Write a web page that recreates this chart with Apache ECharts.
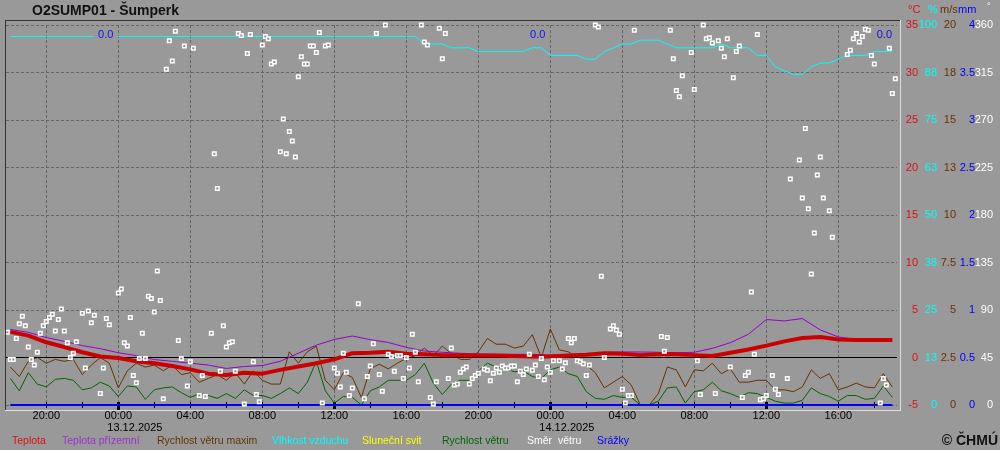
<!DOCTYPE html>
<html><head><meta charset="utf-8">
<script src="https://cdn.jsdelivr.net/npm/echarts@6/dist/echarts.min.js"></script>
<style>html,body{margin:0;padding:0;background:#999999;}#c{width:1000px;height:450px;}</style>
</head><body><div id="c"></div>
<script>
// ---------- DATA (time in hours relative to 13.12.2025 00:00) ----------
const titleText = 'O2SUMP01 - Šumperk';
const halfHourStart = -6, halfHourStep = 0.5;
const hourStart = -6, hourStep = 1;

// wind speed max [m/s], half-hourly
const windMax = [2.0,1.5,2.3,2.5,2.2,2.4,2.3,2.4,1.6,2.1,
 2.5,2.2,0.9,1.8,2.2,2.0,2.1,1.8,2.1,1.6,
 1.7,1.2,1.4,1.6,1.3,1.7,1.1,1.8,1.3,1.1,
 1.1,2.8,2.2,2.8,3.1,1.3,0.8,1.7,1.45,0.4,
 1.9,2.15,1.9,2.2,2.45,2.6,3.0,2.6,3.1,2.7,
 2.4,2.4,2.8,3.5,3.2,3.2,3.0,3.1,3.7,2.5,
 4.0,2.9,2.8,2.5,2.1,1.7,0.9,1.2,1.5,1.05,
 0,0,0.6,2.0,1.85,0.95,1.85,1.8,2.2,1.65,
 1.9,1.2,1.2,1.3,1.3,0.8,0.8,0.7,0.95,1.85,
 1.4,1.65,0.8,0.95,1.15,0.95,0.9,1.65,0.95];
// wind speed [m/s], half-hourly
const windAvg = [1.4,0.75,1.7,1.1,0.95,1.35,1.4,1.3,0.8,0.9,
 1.2,1.0,0.45,1.0,0.95,0.3,0.8,0.9,0.95,0.65,
 0.4,0.6,0.5,0.35,0.6,0.35,0.8,0.5,0.5,0.35,
 0.6,0.9,0.6,1.2,2.3,0.75,0.1,0.45,0.4,0.0,
 0.75,0.95,1.3,1.3,1.3,1.6,2.2,1.15,0.55,1.1,
 1.3,1.3,1.8,2.2,2.0,1.9,1.75,1.8,1.5,1.4,
 1.85,2.0,1.65,1.5,0.7,0.35,0.3,0.5,0.4,0.4,
 0,0,0.2,0.9,0.95,0.1,0.7,0.8,1.2,0.75,
 0.6,0.4,0.65,0.6,0.4,0.2,0.1,0.1,0.25,0.9,
 0.6,0.45,0.2,0.5,0.5,0.3,0.35,1.0,0.4];
// relative humidity [%], half-hourly
const humidity = [97,97,97,97,97,97,97,97,97,97,
 97,97,97,97,97,97,97,97,97,97,
 97,97,97,97,97,97,97,97,97,97,
 97,97,97,97,97,97,97,97,97,97,
 97,97,97,97,97,97,
 95,95,95,94,94,94,93,93,93,93,93,93,94,94,
 92,92,92,92,91,91,93,94,95,95,
 96,96,96,95,94,94,94,94,94,95,
 94,94,94,92,92,89,88,87,87,89,
 90,90,91,92,92,92,93,93,93];
// air temperature [°C], hourly
const tempAir = [2.7,2.3,1.6,1.1,0.55,0.1,-0.05,-0.4,-0.6,-0.9,
 -1.25,-1.7,-1.85,-1.6,-1.7,-1.3,-0.95,-0.6,-0.2,0.45,
 0.5,0.6,0.4,0.35,0.25,0.25,0.2,0.2,0.15,0.1,
 0.1,0.2,0.3,0.45,0.4,0.25,0.35,0.35,0.25,0.15,
 0.5,0.85,1.25,1.7,2.05,2.15,1.9,1.85,1.85,1.85];
// ground temperature [°C], hourly
const tempGround = [2.95,2.65,2.1,1.7,1.25,0.93,0.5,0.2,-0.22,-0.4,
 -0.6,-0.8,-1.15,-0.95,-0.85,-0.4,0.45,1.3,1.9,2.26,
 1.88,1.58,1.07,0.68,0.55,0.44,0.37,0.33,0.33,0.33,
 0.26,0.33,0.37,0.55,0.58,0.58,0.55,0.5,0.55,0.96,
 1.56,2.44,4.0,3.85,4.1,2.9,2.16,1.9,1.85,1.85];
// precipitation [mm], hourly
const precip = [0,0,0,0,0,0,0,0,0,0, 0,0,0,0,0,0,0,0,0,0,
 0,0,0,0,0,0,0,0,0,0, 0,0,0,0,0,0,0,0,0,0,
 0,0,0,0,0,0,0,0,0,0];
// daily precipitation totals (day end in hours) [mm]
const precipDayEnd = [0, 24, 48];
const precipDaySum = [0.0, 0.0, 0.0];
// wind direction: minutes relative to 13.12.2025 00:00, and degrees
const dirMin = [-370,-360,-350,-340,-330,-320,-310,-300,-290,-280,-270,-260,-250,-240,-230,-220,-210,-200,-190,-180,
 -170,-160,-150,-140,-120,-110,-100,-90,-80,-60,-50,-40,-30,0,10,20,30,40,50,60,
 70,80,90,100,110,120,130,140,150,160,170,180,190,200,210,220,230,240,250,270,
 280,290,310,320,330,340,350,360,370,380,390,400,410,420,430,440,450,460,470,480,
 490,500,510,520,540,550,560,570,580,590,600,610,620,630,640,650,660,670,680,690,
 700,720,730,740,750,760,770,780,800,820,830,840,850,860,870,880,890,900,910,920,
 930,940,950,960,970,980,990,1000,1010,1020,1030,1040,1050,1060,1070,1080,1090,1100,1110,1120,
 1130,1140,1150,1160,1170,1180,1190,1200,1220,1230,1240,1250,1260,1270,1280,1290,1300,1310,1320,1330,
 1340,1350,1360,1370,1380,1390,1400,1410,1420,1430,1440,1450,1470,1480,1490,1500,1510,1520,1530,1540,
 1550,1560,1570,1590,1600,1610,1620,1640,1650,1660,1670,1680,1690,1700,1710,1720,1810,1820,1830,1840,
 1850,1860,1870,1880,1910,1920,1930,1940,1950,1960,1970,1980,1990,2000,2010,2020,2030,2040,2050,2060,
 2070,2080,2090,2100,2110,2120,2130,2140,2150,2160,2180,2190,2200,2230,2240,2270,2280,2290,2300,2310,
 2320,2330,2340,2350,2370,2380,2430,2440,2450,2460,2470,2480,2490,2500,2510,2520,2540,2550,2560,2570,
 2580,2590];
const dirDeg = [69,43,43,63,77,84,75,55,43,38,50,68,75,79,83,86,70,81,91,70,
 59,45,49,60,87,35,89,78,85,11,35,82,76,106,110,59,56,83,28,21,
 44,68,44,103,101,88,127,99,6,318,345,326,354,61,44,340,18,41,338,9,
 28,8,68,238,205,32,75,55,59,60,32,352,350,1,333,351,41,10,3,341,
 349,347,323,325,240,271,238,259,250,235,311,330,323,323,340,340,334,353,2,340,
 341,35,30,17,49,31,9,16,96,6,27,37,58,352,29,13,360,48,46,32,
 47,47,25,45,35,67,50,22,360,344,341,7,1,22,357,328,352,25,54,19,
 20,31,34,36,20,25,28,30,34,33,23,30,35,31,37,35,35,37,37,22,
 32,29,34,48,33,38,27,44,24,36,31,42,42,34,40,63,59,63,42,41,
 39,28,38,360,358,122,45,72,75,71,67,15,2,9,9,355,65,51,64,355,
 328,298,292,312,334,299,42,10,360,347,348,343,11,345,338,330,347,36,310,335,
 340,7,28,31,107,48,351,5,6,9,28,15,10,25,214,232,196,262,186,124,
 163,218,235,196,184,159,332,336,347,352,344,349,356,355,331,323,2,25,19,338,
 295,309];

// ---------- AXIS TICKS / LABELS ----------
const xTickHours = [-4,0,4,8,12,16,20,24,28,32,36,40];
const xTickLabels = ['20:00','00:00','04:00','08:00','12:00','16:00','20:00','00:00','04:00','08:00','12:00','16:00'];
const minorTickHours = [-4,-2,0,2,4,6,8,10,12,14,16,18,20,22,24,26,28,30,32,34,36,38,40,42];
const majorTickHours = [0,12,24,36];
const dateTickHours = [0,24];
const dateLabels = ['13.12.2025','14.12.2025'];
const tempLabels = ['-5','0','5','10','15','20','25','30','35'];
const humLabels = ['0','13','25','38','50','63','75','88','100'];
const windLabels = ['0','2.5','5','7.5','10','13','15','18','20'];
const precLabels = ['0','0.5','1','1.5','2','2.5','3','3.5','4'];
const dirLabels = ['0','45','90','135','180','225','270','315','360'];
const unitLabels = ['°C','%','m/s','mm','°'];
const legendNames = ['Teplota','Teplota přízemní','Rychlost větru maxim','Vlhkost vzduchu','Sluneční svit','Rychlost větru','Směr  větru','Srážky'];
const copyrightText = '© ČHMÚ';

// ---------- STYLE ----------
const FONT = '"Liberation Sans", Arial, sans-serif';
const C = {temp:'#cc0000', tempLbl:'#dd1111', ground:'#9900cc', groundLbl:'#9933cc', windMax:'#663300', hum:'#00ffff',
  sun:'#ffff00', wind:'#006600', dir:'#ffffff', prec:'#0000ff', bg:'#999999'};
const legendColors = [C.tempLbl, C.groundLbl, C.windMax, C.hum, C.sun, C.wind, C.dir, C.prec];
const legendX = [12, 62, 157, 272, 362, 442, 527, 597];
const unitColors = [C.tempLbl, C.hum, C.windMax, C.prec, C.dir];
const unitX = [908, 928, 940, 958, 987];

const xMin = -6.24, xMax = 43.26;
const halfT = windMax.map((_, i) => halfHourStart + i * halfHourStep);
const hourT = tempAir.map((_, i) => hourStart + i * hourStep);
const pair = (t, v) => t.map((x, i) => [x, v[i]]);

const chart = echarts.init(document.getElementById('c'), null, {renderer:'canvas', width:1000, height:450});

const baseX = {type:'value', gridIndex:0, min:xMin, max:xMax, axisLine:{show:false}, axisTick:{show:false},
  axisLabel:{show:false}, splitLine:{show:false}};
function yAx(min, max, interval, labels, color, margin, split) {
  return {type:'value', position:'right', offset:0, min, max, interval,
    axisLine:{show:false}, axisTick:{show:false},
    splitLine: split ? {show:true, lineStyle:{color:'#666666', type:[3,2], width:1}} : {show:false},
    axisLabel:{show:true, align:'right', margin, color, fontSize:11, fontFamily:FONT, showMinLabel:true, showMaxLabel:true,
      formatter:(v) => labels[Math.round((v - min) / interval)]}};
}
const lineS = (name, yIdx, data, color, width, z) => ({name, type:'line', xAxisIndex:0, yAxisIndex:yIdx, data,
  showSymbol:false, symbol:'none', smooth:false, z, lineStyle:{color, width}, itemStyle:{color}, emphasis:{disabled:true}, silent:true});

const option = {
  backgroundColor: C.bg,
  animation: false,
  grid: {left:6, right:103, top:25, bottom:45, containLabel:false},
  xAxis: [
    Object.assign({}, baseX, {position:'bottom', axisLabel:{show:true, customValues:xTickHours, margin:5, color:'#000', fontSize:11, fontFamily:FONT,
      formatter:(v) => { const k = xTickHours.indexOf(v); return k >= 0 ? xTickLabels[k] : ''; }}}),
    Object.assign({}, baseX, {position:'bottom', axisTick:{show:false, customValues:xTickHours},
      splitLine:{show:true, lineStyle:{color:'#666666', type:[3,2], width:1}}}),
    Object.assign({}, baseX, {position:'bottom', offset:-3, axisTick:{show:true, customValues:minorTickHours, length:6, lineStyle:{color:'#000', width:1}}}),
    Object.assign({}, baseX, {position:'bottom', offset:-3, axisTick:{show:true, customValues:majorTickHours, length:7, lineStyle:{color:'#000', width:3}}}),
    Object.assign({}, baseX, {position:'top', axisTick:{show:true, inside:true, customValues:dateTickHours, length:6, lineStyle:{color:'#000', width:3}}})
  ],
  yAxis: [
    yAx(-5, 35, 5, tempLabels, C.tempLbl, 21, true),
    yAx(0, 100, 12.5, humLabels, C.hum, 40, false),
    yAx(0, 20, 2.5, windLabels, C.windMax, 59, false),
    yAx(0, 4, 0.5, precLabels, C.prec, 78, false),
    yAx(0, 360, 45, dirLabels, C.dir, 96, false)
  ],
  series: [
    lineS('Vlhkost vzduchu', 1, pair(halfT, humidity), C.hum, 1, 3),
    lineS('Rychlost větru maxim', 2, pair(halfT, windMax), C.windMax, 1, 4),
    lineS('Rychlost větru', 2, pair(halfT, windAvg), C.wind, 1, 5),
    Object.assign(lineS('Teplota přízemní', 0, pair(hourT, tempGround), C.ground, 1, 6), {
      markLine:{silent:true, symbol:['none','none'], label:{show:false}, emphasis:{disabled:true},
        lineStyle:{color:'#000000', type:'solid', width:1}, data:[{yAxis:0}]}}),
    lineS('Teplota', 0, pair(hourT, tempAir), C.temp, 4, 7),
    lineS('Srážky', 3, pair(hourT, precip), C.prec, 2, 8),
    {name:'Směr větru', type:'scatter', xAxisIndex:0, yAxisIndex:4, z:9, silent:true,
      data: dirMin.map((m, i) => [m / 60, dirDeg[i]]),
      symbol:'rect', symbolSize:3.5, itemStyle:{color:'#8a8a8a', borderColor:'#ffffff', borderWidth:1.5, opacity:1}, emphasis:{disabled:true}}
  ]
};
chart.setOption(option);

// ---------- TEXT / DECORATION ----------
const px = h => chart.convertToPixel({xAxisIndex:0}, h);
const rightPx = px(xMax);
const txt = (text, x, y, color, size, opts) => Object.assign({type:'text', x, y, z:100, silent:true,
  style:Object.assign({text, fill:color, font:(opts && opts.bold ? 'bold ' : '') + size + 'px ' + FONT,
    align:(opts && opts.align) || 'left', textAlign:(opts && opts.align) || 'left',
    verticalAlign:'middle', textVerticalAlign:'middle'}, (opts && opts.style) || {})});
const els = [];
els.push(txt(titleText, 32, 11, '#111111', 14, {bold:true}));
unitLabels.forEach((u, i) => els.push(txt(u, unitX[i], i === 4 ? 7 : 10, unitColors[i], i === 4 ? 9 : 11)));
legendNames.forEach((n, i) => els.push(txt(n, legendX[i], 441, legendColors[i], 10.5)));
els.push(txt(copyrightText, 998, 441, '#111111', 14, {bold:true, align:'right'}));
dateTickHours.forEach((h, i) => els.push(txt(dateLabels[i], px(h) - 11, 428, '#000000', 11)));
precipDayEnd.forEach((h, i) => els.push(txt(precipDaySum[i].toFixed(1), Math.min(px(h), rightPx) - 1, 35, '#1010ee', 11,
  {align:'right', style:{backgroundColor:C.bg, padding:[0,4,0,4]}})));
// sunken frame
const ln = (x1, y1, x2, y2, color) => ({type:'line', z:90, silent:true, shape:{x1, y1, x2, y2}, style:{stroke:color, lineWidth:1}});
els.push(ln(5, 20.5, 900, 20.5, '#333333'));
els.push(ln(5.5, 20, 5.5, 410, '#333333'));
els.push(ln(5, 410.5, 901, 410.5, '#dddddd'));
els.push(ln(900.5, 20, 900.5, 411, '#dddddd'));
chart.setOption({graphic:{elements:els}});
</script>
</body></html>
